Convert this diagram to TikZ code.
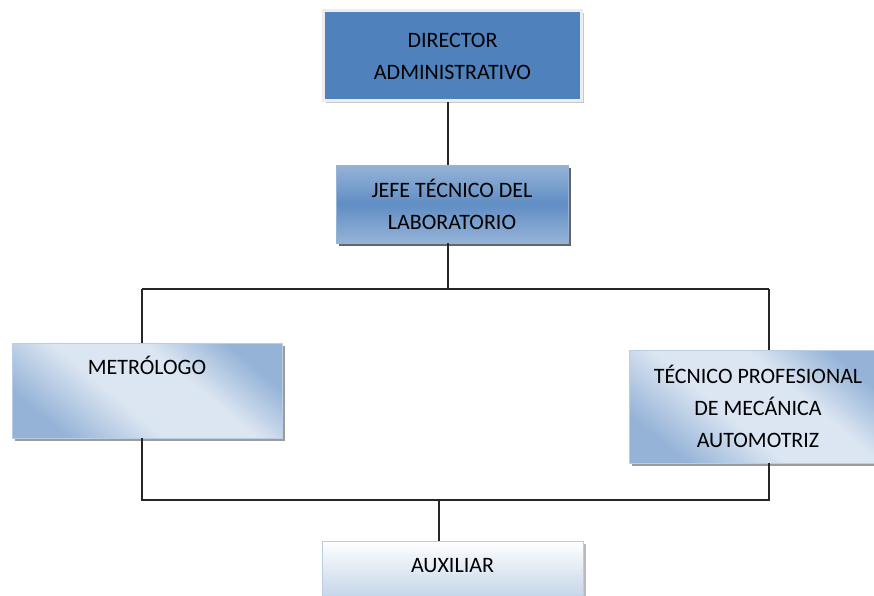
\documentclass[tikz,border=0pt]{standalone}
\usepackage{fontspec}
\setmainfont{Carlito}
\usetikzlibrary{shadows}
\definecolor{dirblue}{HTML}{4F81BD}
\definecolor{midblue}{HTML}{95B3D7}
\definecolor{paleblue}{HTML}{DCE6F2}
\definecolor{edgeblue}{HTML}{B9CDE5}
\pgfdeclareverticalshading{staffshade}{100bp}{color(0bp)=(midblue); color(25bp)=(midblue);
    color(43bp)=(paleblue); color(60bp)=(paleblue); color(75bp)=(midblue); color(100bp)=(midblue)}
\tikzset{
    box/.style={rectangle, inner sep=0pt, align=center, text=black,
        font=\fontsize{22}{32}\selectfont},
    dirbox/.style={box, fill=dirblue, draw=black!7, line width=3pt,
        drop shadow={shadow xshift=2pt, shadow yshift=-2pt, fill=black!30, opacity=0.7}},
    jefebox/.style={box, top color=midblue, bottom color=midblue, middle color=dirblue!90,
        draw=dirblue!60, line width=0.8pt,
        drop shadow={shadow xshift=3pt, shadow yshift=-3pt, fill=black!75, opacity=0.8}},
    staffbox/.style={box, shading=staffshade, shading angle=-40, draw=edgeblue, line width=0.8pt,
        drop shadow={shadow xshift=2.5pt, shadow yshift=-2.5pt, fill=black!55, opacity=0.7}},
    auxbox/.style={box, top color=white, bottom color=midblue!80,
        draw=edgeblue, line width=0.8pt,
        drop shadow={shadow xshift=2.5pt, shadow yshift=-2.5pt, fill=black!45, opacity=0.6}},
    link/.style={draw=black!85, line width=1.2pt}
}
\begin{document}
\begin{tikzpicture}[x=1pt,y=-1pt]
    \clip (0,0) rectangle (874,596);
    \fill[white] (0,0) rectangle (874,596);
            \node[dirbox, minimum width=258, minimum height=90] (dir) at (452.5,56)
                {DIRECTOR\\ADMINISTRATIVO};
            \node[jefebox, minimum width=232, minimum height=78] (jefe) at (452,204)
                {JEFE TÉCNICO DEL\\LABORATORIO};
            \node[staffbox, minimum width=270, text height=31, text depth=64, anchor=base] (metro)
                at (147,374) {METRÓLOGO};
            \node[staffbox, minimum width=258, minimum height=113] (tec) at (758,406.5)
                {TÉCNICO PROFESIONAL\\DE MECÁNICA\\AUTOMOTRIZ};
            \node[auxbox, minimum width=261, text height=31, text depth=50, anchor=base] (aux)
                at (452.5,572) {AUXILIAR};
            \coordinate (up) at (448,289);
            \coordinate (tl) at (142,289);
            \coordinate (tr) at (769,289);
            \coordinate (bl) at (142,500);
            \coordinate (br) at (769,500);
            \coordinate (down) at (439,500);
            \draw[link] (up |- dir.south) -- (up |- jefe.north);
            \draw[link] (up |- jefe.south) -- (up);
            \draw[link] (tl) -- (tr);
            \draw[link] (tl) -- (tl |- metro.north);
            \draw[link] (tr) -- (tr |- tec.north);
            \draw[link] (bl |- metro.south) -- (bl) -- (br) -- (br |- tec.south);
            \draw[link] (down) -- (down |- aux.north);
        \end{tikzpicture}
\end{document}
